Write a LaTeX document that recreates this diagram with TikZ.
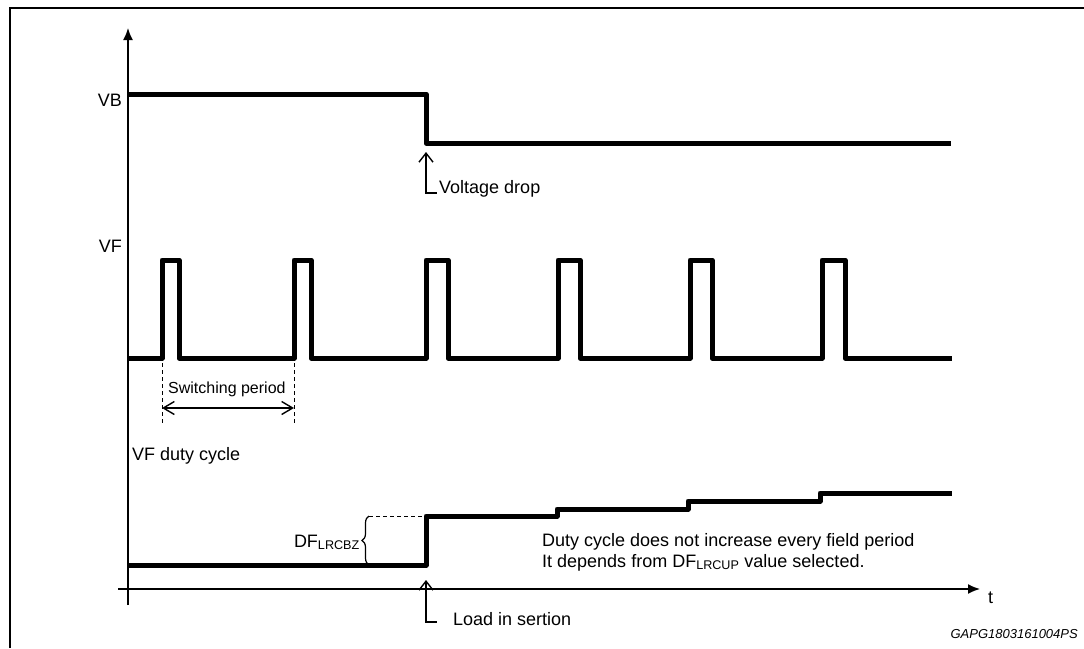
\documentclass[tikz,border=0pt]{standalone}
\usepackage{fontspec}
\setmainfont{Liberation Sans}
\usetikzlibrary{arrows.meta,decorations.pathreplacing}

\begin{document}
\begin{tikzpicture}[
	x=1pt,y=-1pt,
	signal/.style={line width=5pt,line join=round},
	axis/.style={line width=1.6pt,-{Latex[length=12pt,width=10pt]}},
	marker/.style={line width=1.4pt,{Straight Barb[length=9pt,width=14pt]}-},
	guide/.style={line width=0.9pt,dash pattern=on 4pt off 3pt},
	txt/.style={inner sep=0pt,font=\fontsize{18}{21}\selectfont},
	smalltxt/.style={inner sep=0pt,font=\fontsize{16}{19}\selectfont}
	]
	\useasboundingbox (0,0) rectangle (1084,648);
	
	% Cornice
	\draw[line width=1.8pt] (10,648) -- (10,8) -- (1084,8);
	
	% Assi
	\coordinate (ybot) at (128,605);
	\coordinate (ytop) at (128,28);
	\coordinate (tstart) at (118,589);
	\coordinate (tend) at (980,589);
	\draw[axis] (ybot) -- (ytop);
	\draw[axis] (tstart) -- (tend);
	\node[txt,anchor=base west] (tlbl) at (988,603) {t};
	
	% Segnale VB
	\node[txt,anchor=base east] (vb) at (122,106) {VB};
	\coordinate (vbhigh) at (128,94);
	\coordinate (vbdrop) at (426,94);
	\coordinate (vblow) at (426,143);
	\coordinate (vbend) at (951,143);
	\draw[signal] (vbhigh) -- (vbdrop) -- (vblow) -- (vbend);
	
	\coordinate (droptip) at (426,152);
	\node[txt,anchor=base west] (droplbl) at (439,193) {Voltage drop};
	\draw[marker] (droptip) |- ([xshift=-2pt]droplbl.base west);
	
	% Segnale VF
	\node[txt,anchor=base east] (vf) at (122,252) {VF};
	\coordinate (vfstart) at (128,358);
	\coordinate (vfend) at (952,358);
	\draw[signal] (vfstart) -- (162,358) -- (162,260) -- (179,260) -- (179,358)
		-- (294,358) -- (294,260) -- (311,260) -- (311,358)
		-- (426,358) -- (426,260) -- (448,260) -- (448,358)
		-- (558,358) -- (558,260) -- (580,260) -- (580,358)
		-- (690,358) -- (690,260) -- (712,260) -- (712,358)
		-- (822,358) -- (822,260) -- (845,260) -- (845,358) -- (vfend);
	
	% Periodo di commutazione
	\coordinate (swa) at (162,363);
	\coordinate (swb) at (294,363);
	\draw[guide] (swa) -- ++(0,60) coordinate (swabot);
	\draw[guide] (swb) -- ++(0,60) coordinate (swbbot);
	\draw[line width=1.4pt,{Straight Barb[length=11pt,width=13pt]}-{Straight Barb[length=11pt,width=13pt]}]
		([yshift=15pt]swabot) -- ([yshift=15pt]swbbot);
	\node[smalltxt,anchor=base west] (swlbl) at (168,393) {Switching period};
	
	% Duty cycle VF
	\node[txt,anchor=base west] (dclbl) at (132,460) {VF duty cycle};
	\coordinate (dclow) at (128,565);
	\coordinate (dcjump) at (426,565);
	\coordinate (dchigh) at (426,516);
	\coordinate (dcend) at (952,493);
	\draw[signal] (dclow) -- (dcjump) -- (dchigh) -- (557,516) -- (557,509)
		-- (688,509) -- (688,501) -- (820,501) -- (820,493) -- (dcend);
	
	% DF LRCBZ
	\coordinate (bztop) at (369,516);
	\coordinate (bzbot) at (369,565);
	\draw[guide] (bztop) -- (dchigh);
	\draw[line width=1.2pt,decorate,decoration={brace,amplitude=7pt}] (bzbot) -- (bztop);
	\node[txt,anchor=base east] (dfbz) at (360,547) {DF\textsubscript{LRCBZ}};
	
	% Nota
	\node[txt,anchor=base west] (note1) at (542,546) {Duty cycle does not increase every field period};
	\node[txt,anchor=base west] (note2) at ([yshift=-21pt]note1.base west) {It depends from DF\textsubscript{LRCUP} value selected.};
	
	% Inserimento carico
	\coordinate (loadtip) at (426,580);
	\node[txt,anchor=base west] (loadlbl) at (453,625) {Load in sertion};
	\draw[marker] (loadtip) |- ([xshift=-16pt,yshift=3pt]loadlbl.base west);
	
	% Codice figura
	\node[inner sep=0pt,anchor=base east,font=\fontsize{13}{15}\selectfont\itshape] (code) at (1078,638) {GAPG1803161004PS};
	
\end{tikzpicture}
\end{document}
